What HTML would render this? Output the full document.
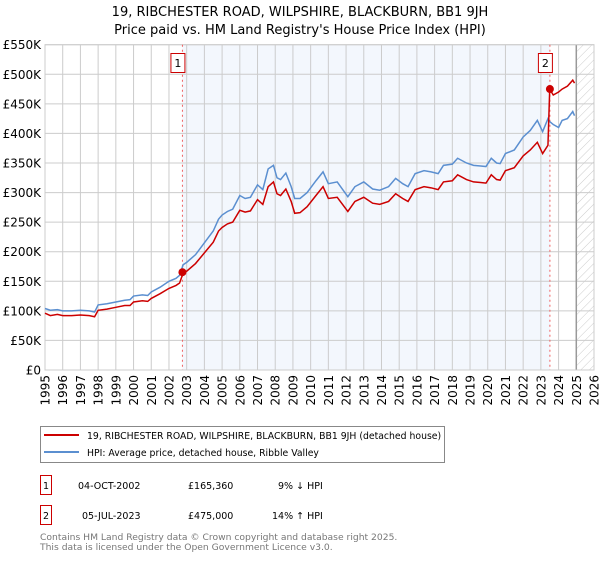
<!DOCTYPE html>
<html><head><meta charset="utf-8"><style>
body{margin:0;background:#fff;font-family:"Liberation Sans","DejaVu Sans",sans-serif;}
svg text{font-family:"DejaVu Sans","Liberation Sans",sans-serif;}
</style></head><body>
<svg id="c" width="600" height="560" viewBox="0 0 600 560" xmlns="http://www.w3.org/2000/svg">
<defs><pattern id="hatch" width="6" height="6" patternUnits="userSpaceOnUse" patternTransform="rotate(45)"><line x1="0" y1="0" x2="0" y2="6" stroke="#ccc" stroke-width="1"/></pattern></defs>
<text x="300" y="16" text-anchor="middle" font-size="13" fill="#000">19, RIBCHESTER ROAD, WILPSHIRE, BLACKBURN, BB1 9JH</text>
<text x="300" y="34" text-anchor="middle" font-size="13" fill="#000">Price paid vs. HM Land Registry's House Price Index (HPI)</text>
<g id="plot"></g>
<g>
<rect x="40.5" y="426.5" width="404" height="36" fill="#fff" stroke="#888"/>
<line x1="44" y1="435" x2="79" y2="435" stroke="#cc0000" stroke-width="2"/>
<text x="87" y="439" font-size="9.3">19, RIBCHESTER ROAD, WILPSHIRE, BLACKBURN, BB1 9JH (detached house)</text>
<line x1="44" y1="452" x2="79" y2="452" stroke="#5b8fd0" stroke-width="2"/>
<text x="87" y="456" font-size="9.3">HPI: Average price, detached house, Ribble Valley</text>
</g>
<g font-size="9.5">
<rect x="40.5" y="475.5" width="11" height="19" fill="#fff" stroke="#cc0000"/>
<text x="46" y="489" text-anchor="middle">1</text>
<text x="78" y="489">04-OCT-2002</text><text x="188" y="489">£165,360</text><text x="278" y="489">9% ↓ HPI</text>
<rect x="40.5" y="505.5" width="11" height="19" fill="#fff" stroke="#cc0000"/>
<text x="46" y="519" text-anchor="middle">2</text>
<text x="82" y="519">05-JUL-2023</text><text x="188" y="519">£475,000</text><text x="272" y="519">14% ↑ HPI</text>
</g>
<text x="40" y="540" font-size="9.2" fill="#777">Contains HM Land Registry data © Crown copyright and database right 2025.</text>
<text x="40" y="550" font-size="9.2" fill="#777">This data is licensed under the Open Government Licence v3.0.</text>
</svg>
<script>
const years=[1995,1995.3,1995.7,1996,1996.5,1997,1997.5,1997.8,1998,1998.5,1999,1999.5,1999.8,2000,2000.5,2000.8,2001,2001.5,2002,2002.4,2002.6,2002.8,2003,2003.5,2004,2004.5,2004.8,2005,2005.3,2005.6,2006,2006.3,2006.6,2007,2007.3,2007.6,2007.9,2008.1,2008.3,2008.6,2008.9,2009.1,2009.4,2009.8,2010.3,2010.7,2011,2011.5,2012.1,2012.5,2013,2013.5,2013.9,2014.4,2014.8,2015.2,2015.5,2015.9,2016.4,2016.8,2017.2,2017.5,2018,2018.3,2018.8,2019.2,2019.6,2019.9,2020.2,2020.5,2020.7,2021,2021.5,2022,2022.4,2022.8,2023.1,2023.4,2023.5,2023.7,2024,2024.2,2024.5,2024.8,2024.9];
const hpi=[104,101,102,100,100,101,100,98,110,112,115,118,119,125,127,126,132,140,150,155,160,178,182,195,215,235,255,262,268,272,295,290,292,313,305,340,346,325,322,333,310,290,290,300,320,335,315,318,293,310,318,306,304,310,324,315,310,332,337,335,332,346,348,358,350,346,345,344,358,350,349,366,372,394,405,422,403,425,420,415,410,422,425,437,430];
const paid=[96,92,94,92,92,93,92,90,101,103,106,109,109,115,117,116,121,129,138,143,147,164,167,180,198,216,235,241,247,250,270,267,269,288,280,310,318,298,295,306,285,265,266,276,295,310,290,292,268,285,292,282,280,285,298,290,285,305,310,308,305,318,320,330,322,318,317,316,330,322,321,337,342,362,372,385,366,380,475,465,470,475,480,490,485];
const saleYears=[2002.76,2023.51];
const salePrices=[165.36,475];
const saleLabels=["1","2"];
const yTicks=[0,50,100,150,200,250,300,350,400,450,500,550];
const yTickLabels=["£0","£50K","£100K","£150K","£200K","£250K","£300K","£350K","£400K","£450K","£500K","£550K"];
const xTicks=[];for(let y=1995;y<=2026;y++)xTicks.push(y);

const L=45,R=594,T=44.7,B=370,x0=1995,x1=2026,vmax=550;
const X=v=>L+(v-x0)/(x1-x0)*(R-L);
const Y=v=>B-v/vmax*(B-T);
const NS="http://www.w3.org/2000/svg";
const g=document.getElementById('plot');
function mk(t,a,p){const e=document.createElementNS(NS,t);for(const k in a)e.setAttribute(k,a[k]);(p||g).appendChild(e);return e;}
const sh=mk('rect',{x:X(saleYears[0]),y:T,width:X(saleYears[1])-X(saleYears[0]),height:B-T,fill:'#eef3fc',opacity:0.7});


const ht=mk('rect',{x:X(2025),y:T,width:R-X(2025),height:B-T,fill:'url(#hatch)'});


yTicks.forEach((v,i)=>{
 mk('line',{x1:L,x2:R,y1:Y(v),y2:Y(v),stroke:'#ccc','stroke-width':1});
 const t=mk('text',{x:L-4,y:Y(v)+4.5,'text-anchor':'end','font-size':12});
 t.textContent=yTickLabels[i];
 
 
});
xTicks.forEach(v=>{
 mk('line',{x1:X(v),x2:X(v),y1:T,y2:B,stroke:'#ccc','stroke-width':1});
 const t=mk('text',{x:0,y:0,'text-anchor':'end','font-size':12,transform:`translate(${X(v)+4.5},${B+5}) rotate(-90)`});
 t.textContent=v;
 
 
});
mk('line',{x1:X(2025),x2:X(2025),y1:T,y2:B,stroke:'#999','stroke-width':1.5});
mk('rect',{x:L,y:T,width:R-L,height:B-T,fill:'none',stroke:'#ccc'});
saleYears.forEach(v=>{mk('line',{x1:X(v),x2:X(v),y1:T,y2:B,stroke:'#f06060','stroke-width':1,'stroke-dasharray':'2,3'});});
const hp=mk('polyline',{points:years.map((v,i)=>X(v)+','+Y(hpi[i])).join(' '),fill:'none',stroke:'#5b8fd0','stroke-width':1.5});


const pp=mk('polyline',{points:years.map((v,i)=>X(v)+','+Y(paid[i])).join(' '),fill:'none',stroke:'#cc0000','stroke-width':1.5});


saleYears.forEach((v,i)=>{
 const c=mk('circle',{cx:X(v),cy:Y(salePrices[i]),r:4,fill:'#cc0000'});
 
 
 const bx=mk('rect',{x:X(v)-11.5,y:53.5,width:14,height:19,fill:'#fff',stroke:'#cc0000'});
 
 
 const t=mk('text',{x:X(v)-4.5,y:67,'text-anchor':'middle','font-size':11});
 t.textContent=saleLabels[i];
 
 
});
</script>
</body></html>
